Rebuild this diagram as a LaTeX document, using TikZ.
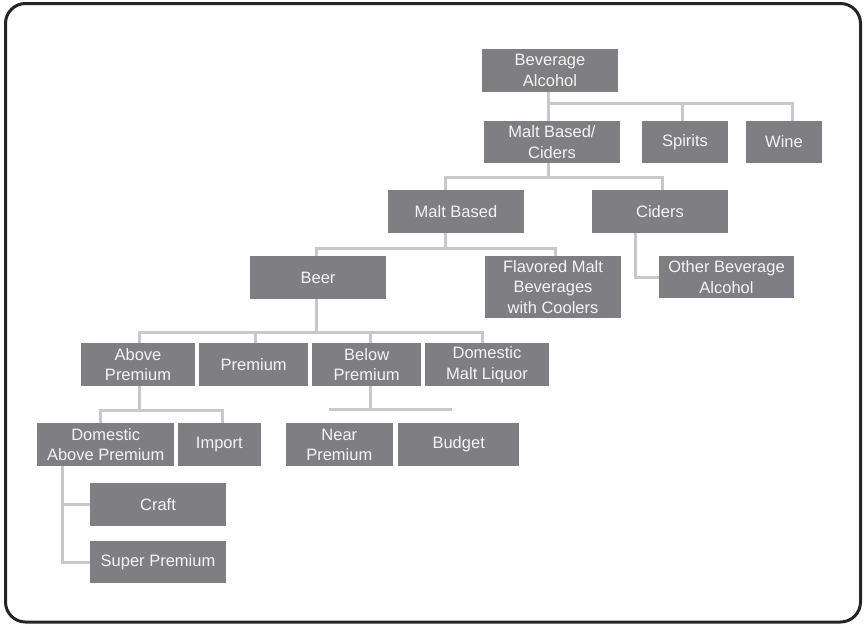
\documentclass[tikz,border=0pt]{standalone}
\usepackage{fontspec}
\setmainfont{Liberation Sans}
\definecolor{boxgray}{HTML}{7F7F83}
\definecolor{linkgray}{HTML}{C8C8C8}
\definecolor{framegray}{HTML}{262324}
\definecolor{labelwhite}{HTML}{F4F4F4}
\begin{document}
\begin{tikzpicture}[x=1pt,y=-1pt,
  bx/.style={fill=boxgray, text=labelwhite, align=center, inner sep=0pt,
    font=\fontsize{16.5}{20.5}\selectfont},
  link/.style={draw=linkgray, line width=3pt}]
\useasboundingbox (0,0) rectangle (864,625);
% outer frame
\draw[framegray, line width=3pt, rounded corners=20pt] (5.5,3.5) rectangle (860.5,622);

% boxes
\node[bx, minimum width=136pt, minimum height=43pt] (ba) at (550,70.5) {Beverage\\Alcohol};
\node[bx, minimum width=136pt, minimum height=42pt] (mbc) at (552,142) {Malt Based/\\Ciders};
\node[bx, minimum width=86pt, minimum height=42pt] (spirits) at (685,142) {Spirits};
\node[bx, minimum width=76pt, minimum height=42pt] (wine) at (784,142) {Wine};
\node[bx, minimum width=136pt, minimum height=43pt] (mb) at (456,211.5) {Malt Based};
\node[bx, minimum width=136pt, minimum height=43pt] (ciders) at (660,211.5) {Ciders};
\node[bx, minimum width=136pt, minimum height=43pt] (beer) at (318,277.5) {Beer};
\node[bx, minimum width=136pt, minimum height=62pt] (fmb) at (553,287) {Flavored Malt\\Beverages\\with Coolers};
\node[bx, minimum width=135pt, minimum height=42pt] (oba) at (726.5,277) {Other Beverage\\Alcohol};
\node[bx, minimum width=114pt, minimum height=42.7pt] (ap) at (138,364.7) {Above\\Premium};
\node[bx, minimum width=109pt, minimum height=42.7pt] (prem) at (253.7,364.7) {Premium};
\node[bx, minimum width=109pt, minimum height=42.7pt] (bp) at (366.7,364.7) {Below\\Premium};
\node[bx, minimum width=124pt, minimum height=42.7pt] (dml) at (487,364.7) {Domestic\\Malt Liquor};
\node[bx, minimum width=136.7pt, minimum height=42.7pt] (dap) at (105.7,444.7) {Domestic\\Above Premium};
\node[bx, minimum width=83.3pt, minimum height=42.7pt] (imp) at (219.3,444.7) {Import};
\node[bx, minimum width=106.7pt, minimum height=42.7pt] (np) at (339.3,444.7) {Near\\Premium};
\node[bx, minimum width=120.7pt, minimum height=42.7pt] (bud) at (458.7,444.7) {Budget};
\node[bx, minimum width=136pt, minimum height=43pt] (craft) at (158,504.5) {Craft};
\node[bx, minimum width=136pt, minimum height=42pt] (sp) at (158,562) {Super Premium};

% junction points of the tree
\coordinate (j1) at (548,103);
\coordinate (j1s) at (682,103);
\coordinate (j1w) at (792,103);
\coordinate (j2) at (548,177.5);
\coordinate (j2a) at (445,177.5);
\coordinate (j2b) at (662,177.5);
\coordinate (j3) at (445,248.3);
\coordinate (j3a) at (316,248.3);
\coordinate (j3b) at (555,248.3);
\coordinate (j4) at (635,277);
\coordinate (j5) at (316,332);
\coordinate (j5a) at (139.5,332);
\coordinate (j5b) at (255.7,332);
\coordinate (j5c) at (370,332);
\coordinate (j5d) at (482.3,332);
\coordinate (j6) at (139.5,410);
\coordinate (j6a) at (100,410);
\coordinate (j6b) at (222.3,410);
\coordinate (j7) at (370,409.5);
\coordinate (j7a) at (329,409.5);
\coordinate (j7b) at (452.3,409.5);
\coordinate (j8a) at (62.5,504.5);
\coordinate (j8b) at (62.5,562);

% connectors
\draw[link] (ba.south -| j1) -- (j1) -- (mbc.north -| j1);
\draw[link] (j1) -- (j1w) -- (wine.north -| j1w);
\draw[link] (j1s) -- (spirits.north -| j1s);

\draw[link] (mbc.south -| j2) -- (j2);
\draw[link] (mb.north -| j2a) -- (j2a) -- (j2b) -- (ciders.north -| j2b);

\draw[link] (mb.south -| j3) -- (j3);
\draw[link] (beer.north -| j3a) -- (j3a) -- (j3b) -- (fmb.north -| j3b);

\draw[link] (ciders.south -| j4) -- (j4) -- (oba.west);

\draw[link] (beer.south -| j5) -- (j5);
\draw[link] (ap.north -| j5a) -- (j5a) -- (j5d) -- (dml.north -| j5d);
\draw[link] (j5b) -- (prem.north -| j5b);
\draw[link] (j5c) -- (bp.north -| j5c);

\draw[link] (ap.south -| j6) -- (j6);
\draw[link] (dap.north -| j6a) -- (j6a) -- (j6b) -- (imp.north -| j6b);

\draw[link] (bp.south -| j7) -- (j7);
\draw[link] (j7a) -- (j7b);

\draw[link] (dap.south -| j8b) -- (j8b) -- (sp.west);
\draw[link] (j8a) -- (craft.west);
\end{tikzpicture}
\end{document}
